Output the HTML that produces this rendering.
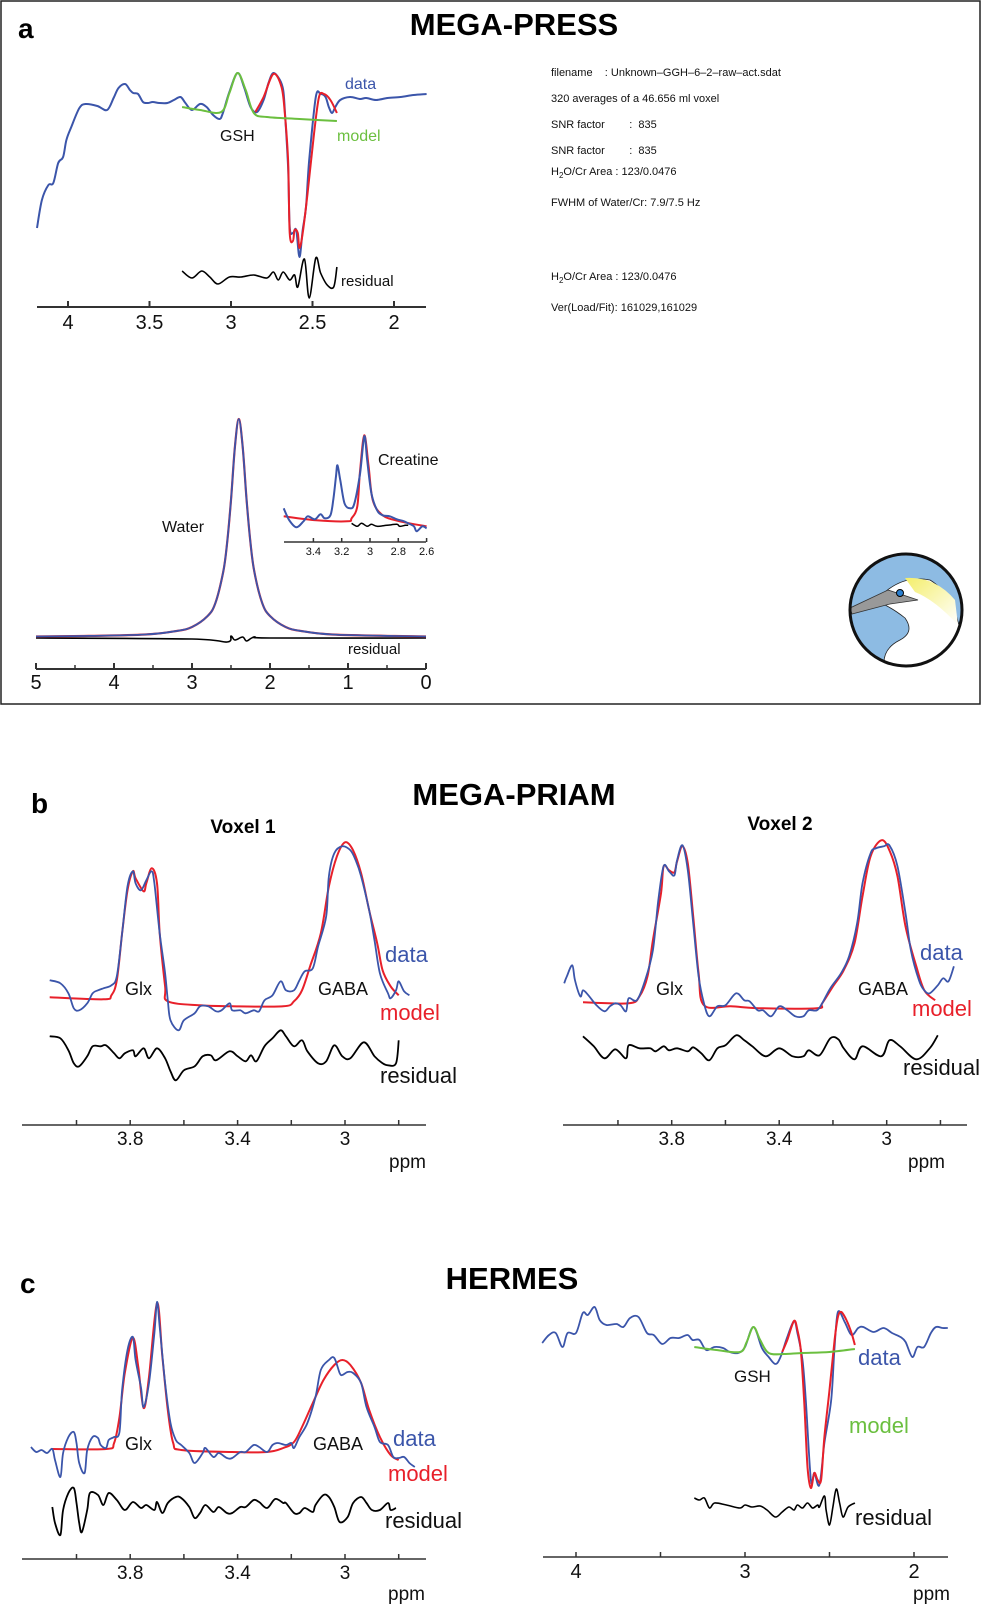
<!DOCTYPE html>
<html><head><meta charset="utf-8">
<style>
html,body{margin:0;padding:0;background:#fff;}
svg{display:block;font-family:"Liberation Sans",Arial,sans-serif;}
.pre{white-space:pre;}
</style></head>
<body>
<svg id="fig" width="985" height="1610" viewBox="0 0 985 1610" xmlns="http://www.w3.org/2000/svg">
<rect x="1" y="1" width="979" height="703" fill="none" stroke="#222" stroke-width="1.5"/>
<text x="18" y="38" font-size="28" font-weight="bold">a</text>
<text x="514" y="35" font-size="31" font-weight="bold" text-anchor="middle">MEGA-PRESS</text>
<text x="31" y="813" font-size="28" font-weight="bold">b</text>
<text x="514" y="805" font-size="31" font-weight="bold" text-anchor="middle">MEGA-PRIAM</text>
<text x="243" y="833" font-size="19" font-weight="bold" text-anchor="middle">Voxel 1</text>
<text x="780" y="830" font-size="19" font-weight="bold" text-anchor="middle">Voxel 2</text>
<text x="20" y="1293" font-size="28" font-weight="bold">c</text>
<text x="512" y="1289" font-size="31" font-weight="bold" text-anchor="middle">HERMES</text>

<g font-size="11" fill="#111" class="pre">
<text x="551" y="76" class="pre">filename    : Unknown–GGH–6–2–raw–act.sdat</text>
<text x="551" y="102">320 averages of a 46.656 ml voxel</text>
<text x="551" y="128" class="pre">SNR factor        :  835</text>
<text x="551" y="154" class="pre">SNR factor        :  835</text>
<text x="551" y="175">H<tspan font-size="8" dy="3">2</tspan><tspan dy="-3">O/Cr Area : 123/0.0476</tspan></text>
<text x="551" y="206">FWHM of Water/Cr: 7.9/7.5 Hz</text>
<text x="551" y="280">H<tspan font-size="8" dy="3">2</tspan><tspan dy="-3">O/Cr Area : 123/0.0476</tspan></text>
<text x="551" y="311">Ver(Load/Fit): 161029,161029</text>
</g>

<g>
<defs><linearGradient id="yg" x1="0" y1="0" x2="1" y2="1"><stop offset="0" stop-color="#f4ee6a"/><stop offset="1" stop-color="#ffffff"/></linearGradient>
<clipPath id="cc"><circle cx="906" cy="610" r="56"/></clipPath></defs>
<circle cx="906" cy="610" r="56" fill="#8dbbe3"/>
<g clip-path="url(#cc)">
<path d="M885 592 Q905 575 930 580 Q955 595 962 640 L962 670 L885 670 Q880 650 900 640 Q915 632 905 618 Q895 610 885 605 Z" fill="#fff" stroke="#222" stroke-width="0.8"/>
<path d="M905 578 Q935 576 955 600 L958 625 Q935 600 915 592 Z" fill="url(#yg)"/>
<polygon points="850,608 888,590 918,600 890,604 852,614" fill="#999" stroke="#333" stroke-width="0.8"/>
<circle cx="900" cy="593" r="3.5" fill="#2a7fd0" stroke="#000" stroke-width="1"/>
</g>
<circle cx="906" cy="610" r="56" fill="none" stroke="#111" stroke-width="3"/>
</g>
<g id="plots"></g>
</svg>
<script>
// ===== Panel a: MEGA-PRESS GSH spectrum =====
const aDataPpm=[4.19,4.16,4.12,4.09,4.06,4.03,4.01,3.98,3.93,3.89,3.82,3.76,3.72,3.69,3.65,3.62,3.60,3.57,3.54,3.51,3.48,3.44,3.39,3.35,3.31,3.28,3.24,3.19,3.15,3.11,3.07,3.05,3.01,2.96,2.92,2.88,2.84,2.80,2.77,2.74,2.70,2.68,2.67,2.65,2.64,2.62,2.60,2.58,2.56,2.54,2.52,2.48,2.45,2.42,2.40,2.38,2.36,2.33,2.27,2.21,2.17,2.11,2.04,1.96,1.88,1.80];
const aDataVal=[79,107,122,124,144,150,167,180,199,203,201,197,209,219,223,217,214,213,205,204,205,204,204,207,210,204,197,203,200,192,188,194,215,234,220,200,195,207,224,234,227,217,197,140,80,74,77,50,77,100,147,210,213,210,200,194,200,207,210,208,209,207,209,210,212,213];
const aModelPpm=[2.85,2.80,2.74,2.69,2.67,2.65,2.64,2.62,2.61,2.59,2.58,2.56,2.53,2.49,2.46,2.43,2.39,2.35];
const aModelVal=[195,210,233,220,194,147,74,66,77,74,59,74,114,174,210,213,207,194];
const aGshPpm=[3.30,3.19,3.06,3.01,2.96,2.91,2.86,2.78,2.58,2.35];
const aGshVal=[200,197,195,214,234,217,194,190,188,186];
const aResPpm=[3.30,3.24,3.18,3.13,3.08,3.01,2.94,2.86,2.78,2.74,2.71,2.68,2.64,2.61,2.59,2.55,2.52,2.48,2.45,2.41,2.37,2.35];
const aResVal=[36,29,36,30,23,30,30,32,29,35,27,35,27,32,20,48,9,49,34,22,20,40];
const aTicks=[4,3.5,3,2.5,2];
const aTickLabels=["4","3.5","3","2.5","2"];
// ===== Panel a: water reference =====
const wPpm=[5,4.4,3.6,3.2,3.0,2.8,2.7,2.6,2.55,2.5,2.45,2.4,2.35,2.3,2.25,2.2,2.1,2.0,1.8,1.6,1.2,0.4,0];
const wVal=[0.5,1,2.5,6,10,21,34,65,94,137,190,218,190,137,94,65,34,21,10,6,2.5,1,0.5];
const wResPpm=[5,3,2.55,2.5,2.45,2.35,2.3,2.2,2,0];
const wResVal=[0,-1,-4,2,-2,1,-3,1,0,0];
const wTicks=[5,4,3,2,1,0];
const wTickLabels=["5","4","3","2","1","0"];
const wMinor=[4.5,3.5,2.5,1.5,0.5];
// ===== Inset creatine =====
const iDataPpm=[3.61,3.57,3.52,3.47,3.44,3.39,3.35,3.32,3.28,3.26,3.24,3.23,3.21,3.18,3.14,3.11,3.07,3.04,3.02,2.99,2.95,2.91,2.86,2.81,2.76,2.73,2.69,2.67,2.63,2.60];
const iDataVal=[34,22,15,21,26,23,28,24,27,42,66,77,62,39,34,39,69,106,82,49,32,27,26,23,21,19,16,11,16,14];
const iModelPpm=[3.61,3.38,3.16,3.13,3.09,3.07,3.04,3.01,2.98,2.91,2.79,2.60];
const iModelVal=[26,22,21,24,36,72,107,76,42,27,21,16];
const iResPpm=[3.13,3.09,3.06,3.02,2.99,2.95,2.88,2.81,2.79,2.75,2.73];
const iResVal=[19,16,19,16,18,16,17,18,16,17,17];
const iTicks=[3.4,3.2,3,2.8,2.6];
const iTickLabels=["3.4","3.2","3","2.8","2.6"];
// ===== Panel b voxel 1 =====
const v1DataPpm=[4.10,4.06,4.03,4.01,3.99,3.96,3.94,3.92,3.90,3.87,3.85,3.83,3.81,3.79,3.78,3.76,3.74,3.72,3.71,3.69,3.67,3.66,3.65,3.62,3.60,3.56,3.54,3.51,3.48,3.46,3.43,3.42,3.39,3.37,3.34,3.32,3.30,3.27,3.24,3.22,3.19,3.17,3.15,3.12,3.10,3.07,3.06,3.04,3.01,2.98,2.96,2.94,2.91,2.89,2.87,2.84,2.83,2.81,2.80,2.78,2.76];
const v1DataVal=[53,50,40,25,23,30,40,43,45,48,57,100,147,162,150,143,153,162,150,100,60,33,13,3,13,20,27,27,22,23,30,23,23,20,23,22,33,38,52,43,43,53,62,65,87,117,157,180,187,183,173,157,123,93,60,40,35,43,52,42,38];
const v1ModelPpm=[4.10,3.90,3.87,3.85,3.83,3.81,3.79,3.78,3.75,3.74,3.72,3.70,3.69,3.67,3.66,3.54,3.42,3.23,3.19,3.16,3.13,3.09,3.06,3.03,3.00,2.97,2.94,2.91,2.88,2.86,2.83,2.80];
const v1ModelVal=[36,34,38,53,100,143,162,155,142,150,165,150,100,47,32,28,27,27,32,43,67,100,147,177,191,183,160,123,90,63,47,38];
const v1ResPpm=[4.10,4.06,4.03,4.01,3.99,3.96,3.94,3.91,3.89,3.86,3.84,3.82,3.79,3.78,3.75,3.73,3.70,3.67,3.65,3.63,3.60,3.56,3.53,3.50,3.48,3.43,3.40,3.37,3.35,3.33,3.30,3.27,3.24,3.22,3.19,3.16,3.14,3.10,3.07,3.04,3.01,2.98,2.93,2.89,2.86,2.84,2.81,2.80];
const v1ResVal=[-3,-5,-17,-30,-33,-23,-13,-13,-12,-20,-25,-20,-17,-23,-15,-25,-15,-25,-38,-47,-37,-33,-23,-22,-27,-18,-23,-28,-22,-28,-13,-5,3,-3,-13,-7,-18,-30,-28,-12,-23,-25,-9,-23,-30,-32,-30,-7];
// ===== Panel b voxel 2 =====
const v2DataPpm=[4.20,4.19,4.17,4.16,4.14,4.13,4.11,4.08,4.05,4.03,4.01,3.99,3.97,3.96,3.93,3.90,3.87,3.85,3.83,3.81,3.79,3.78,3.76,3.74,3.72,3.70,3.68,3.66,3.63,3.60,3.56,3.53,3.51,3.48,3.46,3.43,3.40,3.37,3.34,3.31,3.29,3.26,3.24,3.21,3.17,3.14,3.11,3.09,3.06,3.04,3.01,2.99,2.96,2.93,2.91,2.88,2.86,2.84,2.81,2.79,2.77,2.75];
const v2DataVal=[50,57,68,53,37,43,38,28,22,27,30,28,22,35,33,52,83,133,167,162,158,173,188,163,110,57,30,17,27,28,40,33,32,23,23,17,27,23,17,17,23,23,30,45,60,77,110,150,180,185,187,188,167,120,83,53,43,40,48,55,52,67];
const v2ModelPpm=[4.13,3.96,3.92,3.89,3.87,3.84,3.83,3.81,3.79,3.78,3.76,3.74,3.72,3.70,3.68,3.58,3.46,3.26,3.24,3.20,3.16,3.12,3.09,3.06,3.02,2.99,2.96,2.93,2.89,2.86,2.82];
const v2ModelVal=[31,30,37,57,93,140,167,163,161,172,187,170,117,60,28,27,25,25,30,47,63,90,137,177,193,183,157,107,67,43,33];
const v2ResPpm=[4.13,4.09,4.05,4.01,3.97,3.96,3.92,3.88,3.86,3.83,3.81,3.78,3.74,3.72,3.69,3.66,3.63,3.60,3.56,3.53,3.50,3.45,3.40,3.35,3.31,3.29,3.25,3.21,3.18,3.16,3.12,3.09,3.02,2.99,2.95,2.89,2.84,2.81];
const v2ResVal=[-3,-13,-25,-16,-25,-12,-15,-15,-18,-13,-17,-15,-18,-14,-20,-27,-15,-12,-2,-7,-13,-23,-15,-23,-23,-17,-22,-5,-6,-15,-26,-13,-23,-7,-13,-26,-15,-2];
const bTicks=[4.0,3.8,3.6,3.4,3.2,3.0,2.8];
const bTickLabels=["","3.8","","3.4","","3",""];
// ===== Panel c left GABA/Glx =====
const cDataPpm=[4.17,4.15,4.13,4.11,4.09,4.08,4.06,4.05,4.03,4.01,4.00,3.99,3.97,3.96,3.94,3.92,3.91,3.89,3.88,3.86,3.84,3.83,3.81,3.79,3.78,3.76,3.75,3.73,3.71,3.70,3.69,3.67,3.65,3.63,3.61,3.58,3.56,3.53,3.52,3.49,3.47,3.44,3.42,3.39,3.37,3.34,3.32,3.29,3.27,3.25,3.22,3.20,3.19,3.17,3.14,3.11,3.09,3.06,3.04,3.02,3.01,2.99,2.97,2.94,2.92,2.89,2.87,2.84,2.82,2.80,2.78,2.76,2.74];
const cDataVal=[3,-2,0,-3,1,-10,-27,-3,13,18,7,-13,-23,0,13,12,5,2,10,13,18,60,100,113,90,63,43,67,117,148,123,67,27,10,5,-3,-13,-3,2,-7,-3,-8,-8,-2,-2,5,3,-2,5,7,5,7,2,13,27,53,80,90,92,77,75,78,77,67,43,23,8,5,-7,-8,-7,-13,-17];
const cModelPpm=[4.09,3.89,3.86,3.84,3.82,3.79,3.77,3.75,3.73,3.70,3.68,3.66,3.64,3.61,3.42,3.29,3.23,3.19,3.16,3.12,3.08,3.04,3.01,2.98,2.94,2.91,2.87,2.83,2.80];
const cModelVal=[1,1,7,33,77,112,83,42,73,147,93,40,7,0,-2,-2,2,8,23,47,70,85,90,85,67,40,13,-5,-10];
const cResPpm=[4.09,4.08,4.06,4.05,4.03,4.01,4.00,3.99,3.98,3.96,3.95,3.92,3.90,3.88,3.85,3.82,3.79,3.76,3.74,3.71,3.70,3.68,3.66,3.63,3.61,3.58,3.56,3.54,3.52,3.49,3.47,3.44,3.42,3.39,3.37,3.34,3.32,3.29,3.26,3.23,3.22,3.19,3.17,3.15,3.12,3.11,3.08,3.06,3.04,3.02,2.99,2.97,2.94,2.92,2.90,2.87,2.84,2.83,2.81];
const cResVal=[-57,-73,-85,-60,-43,-38,-53,-73,-82,-60,-43,-45,-55,-43,-50,-60,-52,-58,-55,-60,-52,-63,-53,-47,-48,-57,-68,-63,-55,-62,-57,-63,-63,-57,-57,-50,-52,-58,-49,-53,-53,-63,-63,-58,-62,-55,-45,-47,-57,-72,-67,-53,-47,-53,-60,-60,-53,-60,-58];
// ===== Panel c right GSH =====
const crDataPpm=[4.20,4.16,4.12,4.08,4.05,4.00,3.96,3.93,3.89,3.86,3.82,3.76,3.72,3.68,3.63,3.58,3.54,3.49,3.44,3.39,3.34,3.31,3.27,3.23,3.18,3.13,3.09,3.04,3.00,2.95,2.90,2.86,2.82,2.79,2.75,2.71,2.69,2.66,2.64,2.61,2.59,2.56,2.53,2.49,2.47,2.45,2.41,2.37,2.33,2.30,2.24,2.18,2.13,2.08,2.05,2.01,1.98,1.94,1.90,1.87,1.83,1.80];
const crDataVal=[207,215,217,203,217,217,237,235,243,230,225,226,223,232,233,217,215,206,212,212,215,210,210,200,203,202,198,197,203,223,202,193,186,193,213,229,217,190,150,70,77,65,107,150,203,238,228,215,222,223,218,222,217,213,208,193,203,203,217,223,222,222];
const crModelPpm=[2.78,2.75,2.71,2.69,2.67,2.65,2.63,2.61,2.59,2.57,2.55,2.53,2.50,2.47,2.45,2.43,2.40,2.37,2.35];
const crModelVal=[198,210,229,220,200,150,83,62,77,70,70,113,160,210,233,238,230,217,205];
const crGshPpm=[3.30,3.17,3.03,2.99,2.95,2.91,2.86,2.77,2.66,2.50,2.35];
const crGshVal=[203,200,198,208,223,210,197,196,197,198,201];
const crResPpm=[3.30,3.27,3.24,3.21,3.18,3.11,3.03,3.00,2.96,2.91,2.87,2.82,2.78,2.74,2.71,2.69,2.66,2.63,2.60,2.57,2.56,2.53,2.52,2.50,2.48,2.46,2.44,2.42,2.39,2.35];
const crResVal=[52,50,52,42,47,45,42,45,43,44,40,33,38,43,40,45,42,47,42,45,43,54,40,25,43,61,47,33,43,47];
const crTicks=[4,3.5,3,2.5,2];
const crTickLabels=["4","","3","","2"];

const NS="http://www.w3.org/2000/svg";
const root=document.getElementById('plots');
const BLUE="#3b55aa",RED="#e8202a",GREEN="#6bbf3f";
function el(tag,attrs,parent){const e=document.createElementNS(NS,tag);for(const k in attrs)e.setAttribute(k,attrs[k]);(parent||root).appendChild(e);return e;}
function smoothPath(pts){let d="M"+pts[0][0].toFixed(1)+" "+pts[0][1].toFixed(1);
 for(let i=0;i<pts.length-1;i++){const p0=pts[Math.max(0,i-1)],p1=pts[i],p2=pts[i+1],p3=pts[Math.min(pts.length-1,i+2)];
  const c1x=p1[0]+(p2[0]-p0[0])/6,c1y=p1[1]+(p2[1]-p0[1])/6,c2x=p2[0]-(p3[0]-p1[0])/6,c2y=p2[1]-(p3[1]-p1[1])/6;
  d+=" C"+c1x.toFixed(1)+" "+c1y.toFixed(1)+" "+c2x.toFixed(1)+" "+c2y.toFixed(1)+" "+p2[0].toFixed(1)+" "+p2[1].toFixed(1);}
 return d;}
function curve(xs,ys,xS,yS,color,w,name){const pts=xs.map((x,i)=>[xS(x),yS(ys[i])]);
 const p=el('path',{d:smoothPath(pts),fill:'none',stroke:color,'stroke-width':w,'stroke-linejoin':'round'});
 
 return p;}
function axis(x1,x2,y,ticks,labels,xS,fs,ly,name,tickLen,lw){
 const g=el('g',{});
 
 
 el('line',{x1:x1,x2:x2,y1:y,y2:y,stroke:'#333','stroke-width':lw},g);
 ticks.forEach((t,i)=>{const x=xS(t);el('line',{x1:x,x2:x,y1:y,y2:y-tickLen,stroke:'#333','stroke-width':lw},g);
  if(labels[i]){const tx=el('text',{x:x,y:ly,'font-size':fs,'text-anchor':'middle',fill:'#111'},g);tx.textContent=labels[i];
   
   }});
 return g;}
function label(x,y,txt,fs,color,name,anchor){const t=el('text',{x:x,y:y,'font-size':fs,fill:color,'text-anchor':anchor||'start'});t.textContent=txt;
 
 return t;}

// Panel a top
const axA=p=>68+(4-p)*163, ayA=v=>307-v;
axis(37,426,307,aTicks,aTickLabels,axA,20,329,'panel-a-x-axis',6,2);
curve(aDataPpm,aDataVal,axA,ayA,BLUE,2,'panel-a-data-line');
curve(aModelPpm,aModelVal,axA,ayA,RED,2,'panel-a-model-line');
curve(aGshPpm,aGshVal,axA,ayA,GREEN,2,'panel-a-gsh-model-line');
curve(aResPpm,aResVal,axA,ayA,'#000',1.6,'panel-a-residual-line');
label(345,89,'data',16,BLUE,'panel-a-data-label');
label(220,141,'GSH',16,'#111','panel-a-gsh-label');
label(337,141,'model',16,GREEN,'panel-a-model-label');
label(341,286,'residual',15,'#111','panel-a-residual-label');
// Water
const axW=p=>36+(5-p)*78, ayW=v=>637-v;
axis(36,426,669,wTicks,wTickLabels,axW,20,689,'water-x-axis',6,2);
wMinor.forEach(t=>{const l=el('line',{x1:axW(t),x2:axW(t),y1:669,y2:665,stroke:'#333','stroke-width':1.5});
 
 });
curve(wResPpm,wResVal,axW,v=>638-v,'#000',1.6,'water-residual-line');
curve(wPpm,wVal,axW,ayW,RED,2.2,'water-model-line');
curve(wPpm,wVal,axW,ayW,BLUE,1.8,'water-data-line');
label(162,532,'Water',16,'#111','water-label');
label(348,654,'residual',15,'#111','water-residual-label');
// Inset
const axI=p=>370+(3-p)*141.5, ayI=v=>542.3-v;
axis(284,426,542,iTicks,iTickLabels,axI,11,555,'inset-x-axis',4,1.5);
curve(iModelPpm,iModelVal,axI,ayI,RED,2,'inset-model-line');
curve(iDataPpm,iDataVal,axI,ayI,BLUE,2,'inset-data-line');
curve(iResPpm,iResVal,axI,ayI,'#000',1.5,'inset-residual-line');
label(378,465,'Creatine',16,'#111','creatine-label');
// Voxel 1
const axV1=p=>345+(3-p)*268.5, ayB=v=>1033.3-v;
axis(22,426,1125,bTicks,bTickLabels,axV1,19,1145,'voxel-1-x-axis',5,1.5);
curve(v1ModelPpm,v1ModelVal,axV1,ayB,RED,2,'voxel-1-model-line');
curve(v1DataPpm,v1DataVal,axV1,ayB,BLUE,1.8,'voxel-1-data-line');
curve(v1ResPpm,v1ResVal,axV1,ayB,'#000',1.8,'voxel-1-residual-line');
label(385,962,'data',22,BLUE,'voxel-1-data-label');
label(125,995,'Glx',18,'#111','voxel-1-glx-label');
label(318,995,'GABA',18,'#111','voxel-1-gaba-label');
label(380,1020,'model',22,RED,'voxel-1-model-label');
label(380,1083,'residual',22,'#111','voxel-1-residual-label');
label(426,1168,'ppm',19,'#111','voxel-1-ppm-label','end');
// Voxel 2
const axV2=p=>886.7+(3-p)*268.75;
axis(563,967,1125,bTicks,bTickLabels,axV2,19,1145,'voxel-2-x-axis',5,1.5);
curve(v2ModelPpm,v2ModelVal,axV2,ayB,RED,2,'voxel-2-model-line');
curve(v2DataPpm,v2DataVal,axV2,ayB,BLUE,1.8,'voxel-2-data-line');
curve(v2ResPpm,v2ResVal,axV2,ayB,'#000',1.8,'voxel-2-residual-line');
label(920,960,'data',22,BLUE,'voxel-2-data-label');
label(656,995,'Glx',18,'#111','voxel-2-glx-label');
label(858,995,'GABA',18,'#111','voxel-2-gaba-label');
label(912,1016,'model',22,RED,'voxel-2-model-label');
label(903,1075,'residual',22,'#111','voxel-2-residual-label');
label(945,1168,'ppm',19,'#111','voxel-2-ppm-label','end');
// Panel c left
const ayC=v=>1450-v;
axis(22,426,1559,bTicks,bTickLabels,axV1,19,1579,'panel-c-left-x-axis',5,1.5);
curve(cModelPpm,cModelVal,axV1,ayC,RED,2,'panel-c-model-line');
curve(cDataPpm,cDataVal,axV1,ayC,BLUE,1.8,'panel-c-data-line');
curve(cResPpm,cResVal,axV1,ayC,'#000',1.8,'panel-c-residual-line');
label(393,1446,'data',22,BLUE,'panel-c-data-label');
label(125,1450,'Glx',18,'#111','panel-c-glx-label');
label(313,1450,'GABA',18,'#111','panel-c-gaba-label');
label(388,1481,'model',22,RED,'panel-c-model-label');
label(385,1528,'residual',22,'#111','panel-c-residual-label');
label(425,1600,'ppm',19,'#111','panel-c-left-ppm-label','end');
// Panel c right
const axCR=p=>745+(3-p)*169, ayCR=v=>1550-v;
axis(543,948,1557,crTicks,crTickLabels,axCR,20,1578,'panel-c-right-x-axis',5,1.5);
curve(crDataPpm,crDataVal,axCR,ayCR,BLUE,1.8,'panel-c-right-data-line');
curve(crModelPpm,crModelVal,axCR,ayCR,RED,2,'panel-c-right-model-line');
curve(crGshPpm,crGshVal,axCR,ayCR,GREEN,2,'panel-c-right-gsh-line');
curve(crResPpm,crResVal,axCR,ayCR,'#000',1.6,'panel-c-right-residual-line');
label(734,1382,'GSH',17,'#111','panel-c-right-gsh-label');
label(858,1365,'data',22,BLUE,'panel-c-right-data-label');
label(849,1433,'model',22,GREEN,'panel-c-right-model-label');
label(855,1525,'residual',22,'#111','panel-c-right-residual-label');
label(950,1600,'ppm',19,'#111','panel-c-right-ppm-label','end');
</script>
</body></html>
